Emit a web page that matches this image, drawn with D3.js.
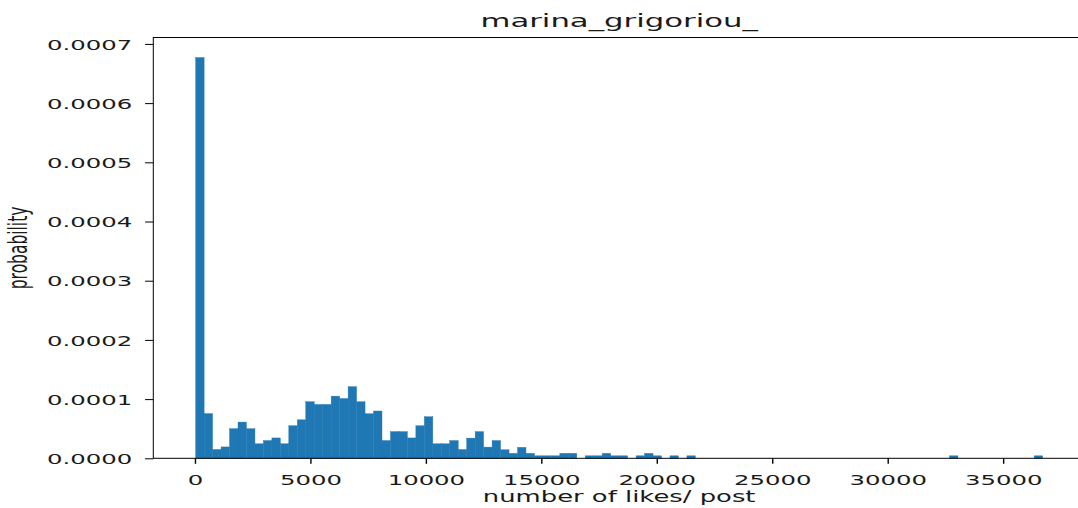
<!DOCTYPE html>
<html>
<head>
<meta charset="utf-8">
<script src="https://cdn.jsdelivr.net/npm/d3@7"></script>
<style>
  body { margin: 0; background: #fff; }
  svg { display: block; font-family: "DejaVu Sans", sans-serif; }
  .tick text { fill: #1a1a1a; }
</style>
</head>
<body>
<script>
// Histogram of likes per post (density), 100 equal bins
const title = "marina_grigoriou_";
const xLabel = "number of likes/ post";
const yLabel = "probability";

const binMin = 30;      // smallest value
const binMax = 36710;   // largest value
const density = [
  0.000677, 0.0000755, 0.0000149, 0.0000192, 0.00005, 0.0000612, 0.00005, 0.0000245, 0.00003, 0.0000344,
  0.0000245, 0.000055, 0.000065, 0.0000956, 0.000091, 0.000091, 0.000105, 0.000101, 0.000121, 0.0000956,
  0.0000753, 0.0000799, 0.00003, 0.0000451, 0.0000451, 0.0000344, 0.000055, 0.0000702, 0.0000245, 0.0000245,
  0.00003, 0.0000149, 0.0000341, 0.0000451, 0.0000189, 0.00003, 0.0000144, 0.0000084, 0.0000185, 0.0000084,
  0.0000042, 0.0000042, 0.0000042, 0.0000084, 0.0000084, 0, 0.0000042, 0.0000042, 0.0000084, 0.0000042,
  0.0000042, 0, 0.0000042, 0.0000084, 0.0000042, 0, 0.0000042, 0, 0.0000042, 0,
  0, 0, 0, 0, 0, 0, 0, 0, 0, 0,
  0, 0, 0, 0, 0, 0, 0, 0, 0, 0,
  0, 0, 0, 0, 0, 0, 0, 0, 0, 0.0000042,
  0, 0, 0, 0, 0, 0, 0, 0, 0, 0.0000042
];
const xTicks = [0, 5000, 10000, 15000, 20000, 25000, 30000, 35000];
const yTicks = [0, 0.0001, 0.0002, 0.0003, 0.0004, 0.0005, 0.0006, 0.0007];

const width = 1078, height = 508;
const stretch = 1.68; // picture was widened, text included
const plotLeft = 153.3, plotRight = 1085, plotTop = 37.5, plotBottom = 458.3;

const svg = d3.select("body").append("svg")
    .attr("width", width)
    .attr("height", height);

// matplotlib-like limits: 5% margin on x, 5% headroom on y
const span = binMax - binMin;
const x = d3.scaleLinear()
    .domain([binMin - 0.05 * span, binMax + 0.05 * span])
    .range([plotLeft, plotRight]);
const y = d3.scaleLinear()
    .domain([0, d3.max(density) * 1.05])
    .range([plotBottom, plotTop]);

const binW = span / density.length;
const bins = density.map((d, i) => ({ x0: binMin + i * binW, x1: binMin + (i + 1) * binW, v: d }));

svg.append("g")
  .selectAll("rect")
  .data(bins.filter(d => d.v > 0))
  .enter()
  .append("rect")
    .attr("x", d => x(d.x0))
    .attr("y", d => y(d.v))
    .attr("width", d => x(d.x1) - x(d.x0))
    .attr("height", d => y(0) - y(d.v))
    .attr("fill", "#1f77b4")
    .attr("stroke", "#1f77b4")
    .attr("stroke-width", 0.4);

// spines
svg.append("rect")
    .attr("x", plotLeft).attr("y", plotTop)
    .attr("width", plotRight - plotLeft).attr("height", plotBottom - plotTop)
    .attr("fill", "none")
    .attr("stroke", "#000")
    .attr("stroke-width", 1);

// axes
const xAxis = svg.append("g")
    .attr("transform", `translate(0,${plotBottom})`)
    .call(d3.axisBottom(x).tickValues(xTicks).tickFormat(d3.format("d")).tickSize(5.5).tickSizeOuter(0));
const yAxis = svg.append("g")
    .attr("transform", `translate(${plotLeft},0)`)
    .call(d3.axisLeft(y).tickValues(yTicks).tickFormat(d3.format(".4f")).tickSize(8.2).tickSizeOuter(0));

[xAxis, yAxis].forEach(g => {
  g.select(".domain").remove();
  g.selectAll(".tick line").attr("stroke", "#000");
  g.selectAll(".tick text")
      .style("font-size", "14.5px")
      .style("font-family", "DejaVu Sans, sans-serif");
});
xAxis.selectAll(".tick line").attr("stroke-width", 1.4);
xAxis.selectAll(".tick text")
    .attr("y", 0).attr("dy", null)
    .attr("transform", `translate(0,26.5) scale(${stretch},1)`);
yAxis.selectAll(".tick text")
    .attr("x", 0).attr("dy", "0.36em")
    .attr("transform", `translate(-21,0) scale(${stretch},1)`);

// title
svg.append("text")
    .attr("transform", `translate(${(plotLeft + plotRight) / 2},27) scale(${stretch},1)`)
    .attr("text-anchor", "middle")
    .style("font-size", "18.3px")
    .attr("fill", "#1a1a1a")
    .text(title);

// axis labels
svg.append("text")
    .attr("transform", `translate(${(plotLeft + plotRight) / 2},502) scale(${stretch},1)`)
    .attr("text-anchor", "middle")
    .style("font-size", "15.4px")
    .attr("fill", "#1a1a1a")
    .text(xLabel);

svg.append("text")
    .attr("transform", `translate(27,${(plotTop + plotBottom) / 2}) scale(${stretch},1) rotate(-90)`)
    .attr("text-anchor", "middle")
    .style("font-size", "15.5px")
    .attr("fill", "#1a1a1a")
    .text(yLabel);
</script>
</body>
</html>
